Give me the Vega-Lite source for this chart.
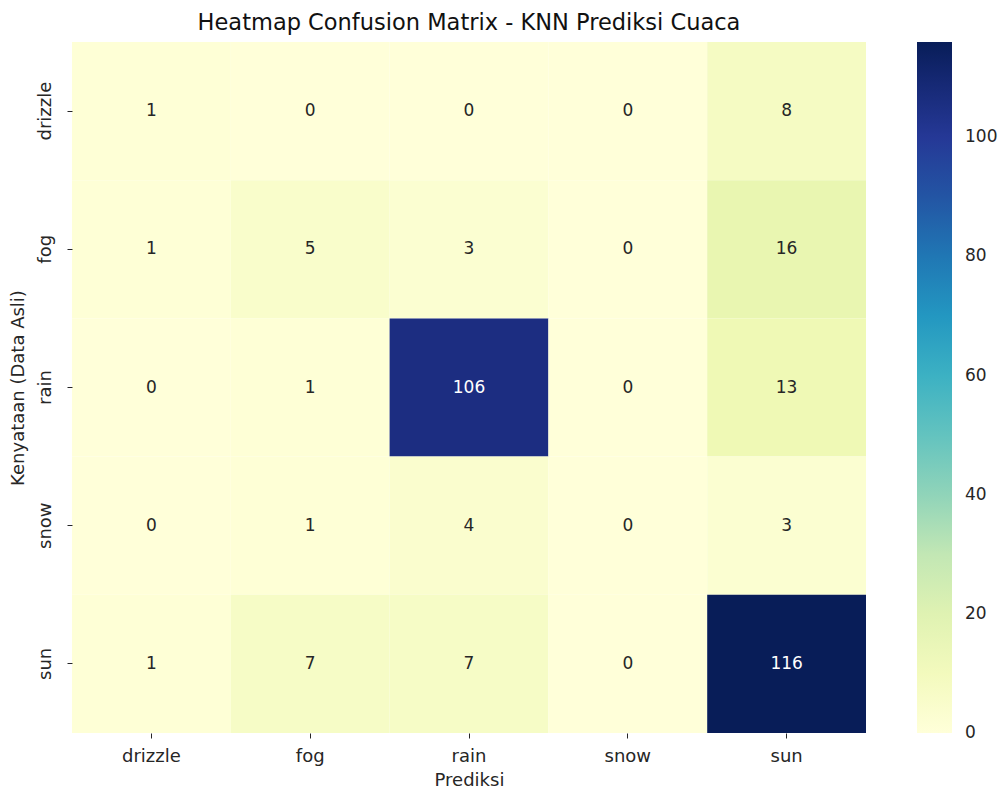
{
  "$schema": "https://vega.github.io/schema/vega-lite/v6.json",
  "width": 794,
  "height": 691,
  "autosize": "none",
  "padding": {"left": 72, "top": 42, "right": 133, "bottom": 58},
  "background": "white",
  "config": {
    "font": "DejaVu Sans",
    "view": {"stroke": null},
    "axis": {"labelColor": "#262626", "titleColor": "#262626", "tickColor": "#262626", "domain": false, "labelFontSize": 18, "titleFontSize": 18, "titleFontWeight": "normal", "tickSize": 5, "grid": false}
  },
  "title": {"text": "Heatmap Confusion Matrix - KNN Prediksi Cuaca", "fontSize": 22.5, "fontWeight": "normal", "color": "#111", "offset": 8, "anchor": "middle"},
  "data": {
    "values": [
      {"actual": "drizzle", "pred": "drizzle", "count": 1},
      {"actual": "drizzle", "pred": "fog", "count": 0},
      {"actual": "drizzle", "pred": "rain", "count": 0},
      {"actual": "drizzle", "pred": "snow", "count": 0},
      {"actual": "drizzle", "pred": "sun", "count": 8},
      {"actual": "fog", "pred": "drizzle", "count": 1},
      {"actual": "fog", "pred": "fog", "count": 5},
      {"actual": "fog", "pred": "rain", "count": 3},
      {"actual": "fog", "pred": "snow", "count": 0},
      {"actual": "fog", "pred": "sun", "count": 16},
      {"actual": "rain", "pred": "drizzle", "count": 0},
      {"actual": "rain", "pred": "fog", "count": 1},
      {"actual": "rain", "pred": "rain", "count": 106},
      {"actual": "rain", "pred": "snow", "count": 0},
      {"actual": "rain", "pred": "sun", "count": 13},
      {"actual": "snow", "pred": "drizzle", "count": 0},
      {"actual": "snow", "pred": "fog", "count": 1},
      {"actual": "snow", "pred": "rain", "count": 4},
      {"actual": "snow", "pred": "snow", "count": 0},
      {"actual": "snow", "pred": "sun", "count": 3},
      {"actual": "sun", "pred": "drizzle", "count": 1},
      {"actual": "sun", "pred": "fog", "count": 7},
      {"actual": "sun", "pred": "rain", "count": 7},
      {"actual": "sun", "pred": "snow", "count": 0},
      {"actual": "sun", "pred": "sun", "count": 116}
    ]
  },
  "encoding": {
    "x": {"field": "pred", "type": "nominal", "sort": ["drizzle", "fog", "rain", "snow", "sun"], "scale": {"paddingInner": 0, "paddingOuter": 0},
      "axis": {"title": "Prediksi", "labelAngle": 0, "labelPadding": 9, "titlePadding": 6}},
    "y": {"field": "actual", "type": "nominal", "sort": ["drizzle", "fog", "rain", "snow", "sun"], "scale": {"paddingInner": 0, "paddingOuter": 0},
      "axis": {"title": "Kenyataan (Data Asli)", "labelAngle": -90, "labelAlign": "center", "labelBaseline": "bottom", "labelPadding": 13, "titlePadding": 9}}
  },
  "layer": [
    {
      "mark": {"type": "rect"},
      "encoding": {
        "color": {"field": "count", "type": "quantitative",
          "scale": {"domain": [0, 14.5, 29, 43.5, 58, 72.5, 87, 101.5, 116], "range": ["#ffffd9", "#edf8b1", "#c7e9b4", "#7fcdbb", "#41b6c4", "#1d91c0", "#225ea8", "#253494", "#081d58"], "interpolate": "rgb"},
          "legend": {"title": null, "orient": "none", "legendX": 845, "legendY": 0, "direction": "vertical", "gradientLength": 691, "gradientThickness": 35, "gradientStrokeWidth": 0, "values": [0, 20, 40, 60, 80, 100], "labelFontSize": 17, "labelColor": "#262626", "labelOffset": 13,
            "encode": {"labels": {"update": {"baseline": {"value": "middle"}}}}}}
      }
    },
    {
      "mark": {"type": "text", "fontSize": 17},
      "encoding": {
        "text": {"field": "count", "type": "quantitative"},
        "color": {"condition": {"test": "datum.count > 60", "value": "white"}, "value": "#262626"}
      }
    }
  ]
}
